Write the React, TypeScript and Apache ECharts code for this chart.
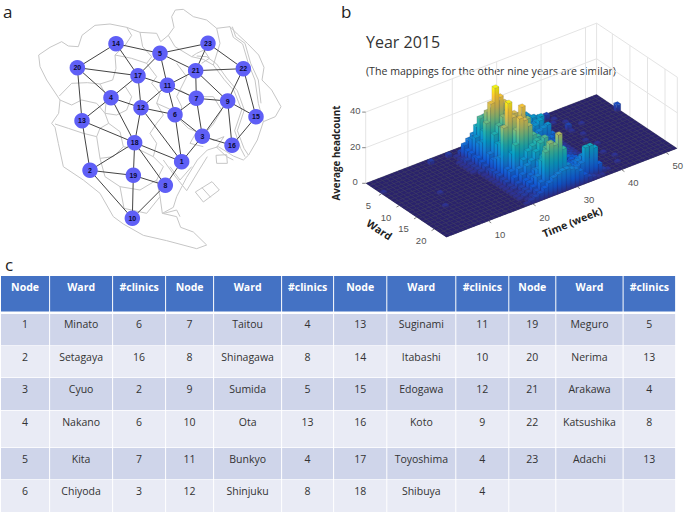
import React, { useEffect, useRef } from "react";
import * as echarts from "echarts";

// ---------- panel a ----------
const nodeIds = [14, 5, 23, 20, 17, 21, 22, 11, 4, 7, 9, 12, 6, 13, 15, 3, 18, 16, 1, 2, 19, 8, 10];
const nodeX = [348, 480, 624, 232, 414, 587, 730, 502, 333, 589, 683, 423, 525, 246, 768, 607, 404, 696, 545, 270, 400, 496, 397];
const nodeY = [131, 160, 130, 203, 227, 212, 206, 256, 293, 295, 303, 323, 344, 362, 350, 409, 428, 436, 485, 511, 526, 556, 655];
const edges = [
  [14, 20], [14, 5], [14, 17], [5, 23], [5, 21], [5, 17], [5, 11], [23, 21], [23, 22], [21, 22], [21, 11], [21, 7], [21, 9],
  [20, 17], [20, 4], [20, 13], [17, 11], [17, 4], [17, 12], [11, 12], [11, 7], [11, 6], [4, 12], [4, 13], [4, 18], [12, 6],
  [12, 18], [12, 1], [7, 6], [7, 9], [7, 3], [9, 22], [9, 15], [9, 16], [9, 3], [22, 15], [15, 16], [6, 3], [6, 1], [3, 16],
  [3, 1], [13, 18], [13, 2], [18, 2], [18, 19], [18, 1], [18, 8], [2, 19], [2, 10], [19, 8], [19, 10], [8, 1], [8, 10],
];
const mapLines: number[][][] = [
  // outer boundary
  [[116, 165], [150, 142], [185, 125], [205, 138], [235, 140], [246, 106], [285, 76], [330, 72], [380, 82], [420, 97], [470, 100], [482, 125], [505, 106], [522, 82], [515, 50], [526, 30], [550, 28], [580, 50], [620, 60], [650, 85], [690, 80], [712, 102], [742, 130], [776, 165], [792, 202], [786, 240], [815, 270], [843, 320], [826, 350], [790, 365], [772, 420], [746, 465], [730, 480], [700, 468], [655, 440], [622, 450], [592, 480], [560, 532], [530, 590], [520, 622], [487, 640], [530, 650], [542, 682], [580, 696], [620, 735], [590, 746], [500, 722], [430, 706], [370, 672], [340, 650], [300, 580], [250, 540], [190, 500], [175, 430], [165, 382], [155, 370], [176, 340], [180, 300], [140, 240], [120, 200], [116, 165]],
  // ward borders
  [[380, 82], [395, 106], [376, 135], [345, 165], [348, 205], [338, 240], [300, 252], [262, 248], [215, 250], [178, 288]],
  [[300, 252], [320, 290], [315, 340], [326, 370], [300, 385], [290, 410], [250, 400], [205, 385], [165, 372]],
  [[420, 97], [428, 140], [455, 170], [440, 190], [470, 230], [455, 250]],
  [[345, 165], [395, 175], [440, 190]],
  [[376, 260], [395, 290], [380, 330], [350, 345], [315, 340]],
  [[326, 370], [360, 395], [370, 440], [340, 470], [300, 475], [315, 530], [360, 560], [372, 625]],
  [[290, 410], [300, 475]],
  [[455, 250], [480, 280], [470, 310], [490, 345], [470, 370], [450, 400], [470, 430], [460, 470], [490, 500], [470, 540]],
  [[370, 440], [420, 450], [460, 470]],
  [[360, 560], [420, 570], [470, 540], [480, 590], [440, 640], [372, 625]],
  [[480, 590], [487, 640]],
  [[505, 106], [525, 140], [575, 170], [590, 160], [612, 150], [628, 175], [605, 190]],
  [[530, 190], [560, 230], [540, 270], [530, 290], [545, 320], [540, 360], [565, 385], [590, 395], [570, 430], [610, 440]],
  [[575, 170], [610, 178], [640, 195], [672, 238], [702, 272], [725, 330], [704, 392], [722, 445], [735, 470]],
  [[590, 168], [620, 170], [650, 192], [680, 234], [712, 272], [733, 330], [712, 392], [732, 445], [745, 465]],
  [[690, 80], [700, 112], [728, 132], [745, 190], [765, 240], [775, 310], [790, 365]],
  [[697, 80], [707, 110], [735, 130], [752, 190], [775, 240], [783, 310]],
  [[620, 410], [642, 422], [672, 410], [650, 442], [680, 470], [700, 480]],
  [[648, 466], [680, 464], [682, 490], [650, 490], [648, 466]],
  [[490, 480], [520, 522], [560, 572], [590, 522], [622, 470]],
  [[510, 500], [540, 540], [575, 500]],
  [[586, 576], [636, 545], [658, 570], [610, 606], [586, 576]],
  [[606, 563], [632, 592]],
  [[492, 640], [530, 630], [540, 650]],
  [[540, 270], [575, 290], [640, 290], [665, 330], [640, 372], [620, 395]],
  [[180, 300], [215, 315], [245, 300], [290, 310], [315, 340]],
  [[470, 310], [515, 330], [540, 360]],
  [[640, 195], [660, 130], [650, 85]],
];

// ---------- panel b ----------
const yearTitle = "Year 2015";
const subTitle = "(The mappings for the other nine years are similar)";
const wardTicks = [5, 10, 15, 20];
const weekTicks = [10, 20, 30, 40, 50];
const headTicks = [0, 20, 40];
// rows = wards, columns = weeks
const headcount: number[][] = [
  [0, 0, 0, 0, 0, 0, 0, 0, 0, 0, 0, 0, 0, 0, 0, 0, 0, 0, 0, 0, 0, 0, 1, 0, 1, 0, 0, 1, 0, 0, 1, 0, 0, 0, 0, 0, 0, 0, 0, 0, 0, 0, 0, 0, 0, 0, 0, 0, 0, 0, 0, 0],
  [0, 0, 0, 0, 0, 0, 0, 0, 0, 0, 0, 0, 0, 2, 0, 0, 0, 2, 0, 0, 1, 1, 1, 2, 1, 1, 1, 2, 2, 1, 1, 0, 0, 0, 1, 0, 0, 0, 0, 3, 0, 0, 0, 0, 0, 0, 0, 0, 0, 0, 0, 0],
  [0, 0, 0, 0, 0, 0, 0, 0, 0, 0, 0, 0, 0, 0, 0, 0, 0, 0, 1, 3, 5, 6, 7, 6, 5, 4, 4, 3, 3, 2, 3, 4, 4, 2, 2, 1, 0, 0, 0, 0, 1, 0, 0, 0, 0, 0, 0, 0, 0, 0, 0, 0],
  [0, 0, 0, 0, 0, 0, 0, 0, 0, 0, 0, 0, 0, 0, 0, 0, 0, 0, 1, 8, 10, 12, 14, 13, 10, 8, 6, 4, 5, 4, 6, 10, 10, 6, 3, 2, 1, 0, 0, 1, 0, 0, 0, 0, 0, 0, 0, 0, 0, 0, 0, 0],
  [1, 0, 0, 0, 0, 0, 0, 0, 0, 0, 0, 0, 0, 0, 0, 0, 0, 1, 2, 6, 12, 18, 20, 22, 16, 12, 8, 6, 5, 5, 7, 10, 14, 8, 4, 2, 1, 0, 0, 0, 0, 1, 0, 0, 0, 0, 0, 0, 0, 0, 0, 0],
  [0, 0, 0, 0, 0, 0, 0, 0, 0, 0, 0, 0, 0, 0, 0, 0, 0, 1, 3, 6, 14, 24, 24, 22, 18, 12, 9, 7, 6, 6, 8, 12, 14, 13, 6, 3, 1, 0, 0, 0, 0, 0, 0, 0, 0, 0, 0, 0, 0, 0, 0, 0],
  [0, 0, 0, 0, 0, 0, 0, 0, 0, 0, 0, 0, 0, 0, 0, 0, 0, 1, 2, 5, 12, 18, 26, 28, 24, 16, 10, 8, 7, 7, 9, 13, 15, 14, 8, 3, 1, 0, 0, 0, 3, 0, 0, 1, 0, 0, 0, 0, 0, 0, 0, 4],
  [0, 0, 0, 0, 0, 0, 0, 0, 0, 0, 0, 0, 0, 0, 0, 0, 0, 1, 2, 6, 14, 30, 30, 34, 30, 24, 14, 9, 7, 8, 10, 13, 14, 16, 9, 4, 2, 0, 0, 0, 1, 0, 0, 0, 0, 0, 0, 0, 0, 0, 0, 0],
  [0, 0, 0, 0, 0, 0, 0, 0, 0, 0, 0, 0, 0, 0, 0, 0, 0, 1, 2, 5, 26, 36, 44, 38, 34, 22, 12, 8, 9, 11, 13, 14, 16, 10, 4, 2, 1, 0, 0, 0, 0, 0, 0, 0, 0, 0, 0, 0, 0, 0, 0, 0],
  [0, 0, 0, 0, 0, 0, 0, 0, 0, 0, 0, 0, 0, 0, 0, 0, 0, 0, 2, 4, 10, 20, 24, 28, 30, 24, 14, 9, 7, 8, 10, 12, 13, 14, 8, 3, 1, 0, 0, 0, 0, 1, 0, 0, 0, 0, 0, 0, 0, 0, 0, 0],
  [0, 0, 0, 0, 0, 0, 0, 0, 1, 0, 0, 0, 0, 0, 0, 0, 0, 0, 1, 3, 8, 16, 24, 30, 30, 24, 16, 9, 6, 5, 7, 8, 9, 8, 5, 2, 1, 0, 0, 0, 0, 0, 0, 0, 0, 0, 0, 0, 0, 0, 0, 0],
  [0, 0, 0, 0, 0, 0, 0, 0, 0, 0, 0, 0, 0, 0, 0, 0, 0, 0, 1, 4, 10, 18, 26, 30, 28, 26, 16, 10, 8, 6, 6, 7, 8, 7, 4, 2, 1, 0, 0, 0, 1, 0, 0, 0, 0, 0, 0, 0, 0, 0, 0, 0],
  [0, 0, 0, 0, 0, 0, 0, 0, 0, 0, 0, 0, 0, 0, 0, 0, 0, 0, 1, 4, 12, 20, 30, 34, 32, 30, 28, 14, 9, 6, 6, 8, 7, 6, 4, 2, 1, 0, 0, 0, 0, 0, 0, 0, 0, 0, 0, 0, 0, 0, 0, 0],
  [0, 0, 0, 0, 0, 0, 0, 0, 0, 0, 0, 0, 0, 0, 0, 0, 0, 0, 1, 4, 30, 43, 34, 30, 38, 24, 12, 9, 7, 5, 5, 6, 6, 5, 3, 2, 1, 0, 0, 0, 0, 1, 0, 0, 0, 0, 0, 0, 0, 0, 0, 0],
  [0, 0, 0, 0, 0, 0, 1, 0, 0, 0, 0, 0, 0, 0, 0, 0, 0, 0, 1, 3, 8, 16, 28, 32, 26, 24, 16, 10, 7, 5, 4, 5, 6, 4, 3, 2, 1, 0, 0, 0, 0, 0, 0, 0, 0, 0, 0, 0, 0, 0, 0, 0],
  [0, 0, 0, 0, 0, 0, 0, 0, 0, 0, 0, 0, 0, 0, 0, 0, 0, 0, 1, 3, 8, 22, 36, 34, 30, 24, 22, 14, 8, 5, 4, 4, 5, 4, 2, 1, 1, 0, 0, 0, 0, 0, 0, 0, 0, 0, 0, 0, 0, 0, 0, 0],
  [0, 0, 0, 0, 0, 0, 0, 0, 0, 0, 0, 0, 0, 0, 0, 0, 0, 0, 1, 2, 6, 10, 14, 18, 20, 22, 20, 14, 9, 7, 5, 5, 6, 5, 3, 1, 1, 0, 0, 0, 1, 0, 0, 0, 0, 0, 0, 0, 0, 0, 0, 0],
  [0, 0, 0, 0, 0, 0, 0, 0, 0, 0, 0, 0, 0, 0, 0, 0, 0, 0, 1, 2, 4, 8, 12, 14, 18, 22, 24, 16, 10, 7, 6, 5, 6, 6, 3, 2, 1, 0, 0, 0, 0, 0, 0, 0, 0, 0, 0, 0, 0, 0, 0, 0],
  [0, 0, 0, 0, 0, 0, 0, 0, 0, 0, 0, 0, 0, 0, 0, 0, 0, 0, 1, 1, 3, 6, 8, 10, 14, 16, 18, 12, 8, 6, 5, 6, 6, 5, 3, 1, 1, 0, 0, 0, 0, 1, 0, 0, 0, 0, 0, 0, 0, 0, 0, 0],
  [0, 0, 0, 0, 0, 0, 0, 0, 0, 0, 0, 0, 0, 0, 0, 0, 0, 0, 1, 2, 3, 6, 8, 12, 18, 20, 16, 12, 8, 6, 6, 8, 9, 7, 4, 2, 1, 0, 0, 0, 0, 0, 0, 0, 0, 0, 0, 0, 0, 0, 0, 0],
  [0, 0, 0, 0, 0, 0, 0, 0, 0, 0, 0, 0, 0, 0, 0, 0, 0, 0, 1, 2, 3, 5, 10, 18, 24, 26, 22, 16, 10, 8, 8, 10, 12, 9, 5, 2, 1, 0, 0, 0, 1, 0, 0, 0, 0, 0, 0, 0, 0, 0, 0, 0],
  [0, 0, 0, 0, 0, 0, 0, 0, 0, 0, 0, 0, 0, 0, 0, 0, 0, 0, 0, 1, 2, 4, 8, 24, 28, 26, 31, 22, 12, 9, 9, 10, 18, 18, 16, 6, 2, 1, 0, 0, 0, 0, 0, 0, 0, 0, 0, 0, 0, 0, 0, 0],
  [0, 0, 0, 0, 0, 0, 0, 0, 0, 0, 0, 0, 0, 0, 0, 0, 0, 0, 1, 2, 3, 4, 6, 8, 10, 11, 12, 12, 11, 10, 8, 5, 3, 2, 1, 1, 0, 0, 0, 0, 0, 0, 0, 0, 0, 0, 0, 0, 0, 0, 0, 0],
];

// ---------- panel c ----------
const tableHeader = ["Node", "Ward", "#clinics"];
const wardNames = ["Minato", "Setagaya", "Cyuo", "Nakano", "Kita", "Chiyoda", "Taitou", "Shinagawa", "Sumida", "Ota", "Bunkyo", "Shinjuku", "Suginami", "Itabashi", "Edogawa", "Koto", "Toyoshima", "Shibuya", "Meguro", "Nerima", "Arakawa", "Katsushika", "Adachi"];
const clinicCounts = [6, 16, 2, 6, 7, 3, 4, 8, 5, 13, 4, 8, 11, 10, 12, 9, 4, 4, 5, 13, 4, 8, 13];

// ---------- layout (page pixels) ----------
const colEdges = [1, 49.5, 112.5, 165.5, 213.5, 281.5, 333.5, 386.7, 455.7, 508.7, 555.7, 623, 675.5];
const rowEdges = [276, 311.5, 314, 345.2, 345.8, 377.3, 378, 410, 410.8, 447.2, 448, 479.3, 480, 512];
const rowTextY = [286.7, 324, 356.7, 389, 421.7, 459, 491];
const FONT = '"Open Sans", sans-serif';
const TICKFONT = '"Liberation Sans", Arial, sans-serif';

// projection of (ward, week, headcount) to page pixels
const O = { x: 365.7, y: 183.3, wx: 3.51, wy: 2.35, tx: 4.44, ty: -1.71, z: 1.78 };
const WARD_MAX = 23;
const WEEK_MAX = 52;
const HEAD_MAX = 40;
const BAR_HALF = 0.45;
const COLOR_MAX = 44;
const project = (w: number, t: number, v: number): [number, number] => [
  O.x + O.wx * w + O.tx * t,
  O.y + O.wy * w + O.ty * t - O.z * v,
];

const parula: [number, number, number][] = [
  [53, 42, 135], [15, 92, 221], [20, 129, 214], [6, 164, 202], [46, 183, 164], [135, 191, 119], [209, 187, 89], [254, 200, 50], [249, 251, 14],
];
const parulaAt = (f: number, shade = 1) => {
  const p = Math.max(0, Math.min(1, f)) * (parula.length - 1);
  const i = Math.min(parula.length - 2, Math.floor(p));
  const k = p - i;
  const c = parula[i].map((a, n) => Math.round((a + (parula[i + 1][n] - a) * k) * shade));
  return `rgb(${c[0]},${c[1]},${c[2]})`;
};

export default function App() {
  const ref = useRef<HTMLDivElement>(null);
  useEffect(() => {
    const chart = echarts.init(ref.current!, undefined, { renderer: "svg" });

    // map nodes
    const graphNodes = nodeIds.map((id, i) => ({ name: String(id), value: [nodeX[i], nodeY[i]] }));
    const graphLinks = edges.map(([a, b]) => ({ source: String(a), target: String(b) }));

    // bars, far to near
    const barData: number[][] = [];
    for (let w = 0; w < headcount.length; w++) {
      for (let t = WEEK_MAX - 1; t >= 0; t--) barData.push([w, t, headcount[w][t]]);
    }

    const toPoly = (api: any, pts: [number, number][]) => pts.map((p) => api.coord(p));

    const renderBar = (_p: any, api: any) => {
      const w = api.value(0) + 0.5;
      const t = api.value(1) + 0.5;
      const v = api.value(2);
      const h = BAR_HALF;
      const top = [project(w - h, t - h, v), project(w + h, t - h, v), project(w + h, t + h, v), project(w - h, t + h, v)];
      const f = v / COLOR_MAX;
      const children: any[] = [];
      const edge = "rgba(30,30,70,0.35)";
      if (v > 0) {
        const n = Math.max(1, Math.ceil(f * 8));
        const grad = (shade: number) => {
          const stops = [];
          for (let s = 0; s <= n; s++) stops.push({ offset: s / n, color: parulaAt(f * (1 - s / n), shade) });
          return new echarts.graphic.LinearGradient(0, 0, 0, 1, stops);
        };
        const front = [project(w + h, t - h, v), project(w + h, t + h, v), project(w + h, t + h, 0), project(w + h, t - h, 0)];
        const side = [project(w - h, t - h, v), project(w + h, t - h, v), project(w + h, t - h, 0), project(w - h, t - h, 0)];
        children.push({ type: "polygon", shape: { points: toPoly(api, side as any) }, style: { fill: grad(1), stroke: edge, lineWidth: 0.3 } });
        children.push({ type: "polygon", shape: { points: toPoly(api, front as any) }, style: { fill: grad(0.88), stroke: edge, lineWidth: 0.3 } });
      }
      children.push({
        type: "polygon", shape: { points: toPoly(api, top as any) },
        style: { fill: parulaAt(f, v > 0 ? 0.98 : 0.8), stroke: "rgba(60,60,90,0.5)", lineWidth: 0.3 },
      });
      return { type: "group", children };
    };

    // floor under the bars: [ward, week] corners
    const floorCorners = [[0, 0], [WARD_MAX, 0], [WARD_MAX, WEEK_MAX], [0, WEEK_MAX]];
    const renderFloor = (_p: any, api: any) => ({
      type: "polygon",
      shape: { points: floorCorners.map(([w, t]) => api.coord(project(w, t, 0))) },
      style: { fill: "#45446a" },
    });

    // walls
    const wallSegs: [number, number, number, number, number, number][] = [];
    for (const k of weekTicks) wallSegs.push([0, k - 0.5, 0, 0, k - 0.5, HEAD_MAX]);
    for (const k of wardTicks) wallSegs.push([k - 0.5, WEEK_MAX, 0, k - 0.5, WEEK_MAX, HEAD_MAX]);
    for (const z of headTicks) {
      wallSegs.push([0, 0, z, 0, WEEK_MAX, z]);
      wallSegs.push([0, WEEK_MAX, z, WARD_MAX, WEEK_MAX, z]);
    }
    wallSegs.push([0, 0, 0, 0, 0, HEAD_MAX]);
    wallSegs.push([0, WEEK_MAX, 0, 0, WEEK_MAX, HEAD_MAX]);
    wallSegs.push([WARD_MAX, WEEK_MAX, 0, WARD_MAX, WEEK_MAX, HEAD_MAX]);

    const renderWall = (_p: any, api: any) => {
      const a = api.coord(project(api.value(0), api.value(1), api.value(2)));
      const b = api.coord(project(api.value(3), api.value(4), api.value(5)));
      return { type: "line", shape: { x1: a[0], y1: a[1], x2: b[0], y2: b[1] }, style: { stroke: "#e4e4e4", lineWidth: 1 } };
    };

    // tick marks and tick labels of the 3-D axes: [kind, tick]
    const tickData: number[][] = [
      ...wardTicks.map((k) => [0, k]),
      ...weekTicks.map((k) => [1, k]),
      ...headTicks.map((k) => [2, k]),
    ];
    const renderTick = (_p: any, api: any) => {
      const kind = api.value(0);
      const k = api.value(1);
      const base = kind === 0 ? project(k - 0.5, 0, 0) : kind === 1 ? project(WARD_MAX, k - 0.5, 0) : project(0, 0, k);
      const off = kind === 0 ? [-13, 11.5] : kind === 1 ? [11.5, 13] : [-10.5, -1.5];
      const tk = kind === 0 ? [-2.6, 1.5] : kind === 1 ? [2.6, 1.8] : [-3.5, 0];
      const a = api.coord(base);
      return {
        type: "group",
        children: [
          { type: "line", shape: { x1: a[0], y1: a[1], x2: a[0] + tk[0], y2: a[1] + tk[1] }, style: { stroke: "#666", lineWidth: 0.8 } },
          { type: "text", x: a[0] + off[0], y: a[1] + off[1], style: { text: String(k), fill: "#555", font: `9.5px ${TICKFONT}`, align: "center", verticalAlign: "middle" } },
        ],
      };
    };

    // table: [col, row, kind]
    const nCols = 12;
    const cells: any[] = [];
    for (let c = 0; c < nCols; c++) cells.push({ value: [c, 0], text: tableHeader[c % 3] });
    for (let g = 0; g < 4; g++) {
      for (let r = 0; r < 6; r++) {
        const i = g * 6 + r;
        const has = i < wardNames.length;
        cells.push({ value: [g * 3, r + 1], text: has ? String(i + 1) : "" });
        cells.push({ value: [g * 3 + 1, r + 1], text: has ? wardNames[i] : "" });
        cells.push({ value: [g * 3 + 2, r + 1], text: has ? String(clinicCounts[i]) : "" });
      }
    }
    const renderCell = (params: any, api: any) => {
      const c = api.value(0);
      const r = api.value(1);
      const item = cells[params.dataIndex];
      const x1 = colEdges[c] + (c > 0 ? 0.6 : 0);
      const x2 = colEdges[c + 1] - 0.4;
      const y1 = r === 0 ? rowEdges[0] : rowEdges[r * 2];
      const y2 = r === 0 ? rowEdges[1] : rowEdges[r * 2 + 1];
      const fill = r === 0 ? "#4472C4" : r % 2 === 1 ? "#CFD5EA" : "#E9EBF5";
      const a = api.coord([x1, y1]);
      const b = api.coord([x2, y2]);
      const m = api.coord([(x1 + x2) / 2, rowTextY[r]]);
      return {
        type: "group",
        children: [
          { type: "rect", shape: { x: a[0], y: a[1], width: b[0] - a[0], height: b[1] - a[1] }, style: { fill } },
          {
            type: "text", x: m[0], y: m[1],
            style: {
              text: item.text, fill: r === 0 ? "#ffffff" : "#333333",
              font: `${r === 0 ? "bold " : ""}10.5px ${FONT}`, align: "center", verticalAlign: "middle",
            },
          },
        ],
      };
    };

    chart.setOption({
      animation: false,
      backgroundColor: "#ffffff",
      grid: [
        { left: 0, top: 0, width: 290, height: 250 },
        { left: 0, top: 0, width: 685, height: 513 },
      ],
      xAxis: [
        { type: "value", gridIndex: 0, min: 0, max: 870, show: false },
        { type: "value", gridIndex: 1, min: 0, max: 685, show: false },
      ],
      yAxis: [
        { type: "value", gridIndex: 0, min: 0, max: 750, inverse: true, show: false },
        { type: "value", gridIndex: 1, min: 0, max: 513, inverse: true, show: false },
      ],
      series: [
        {
          type: "lines", coordinateSystem: "cartesian2d", xAxisIndex: 0, yAxisIndex: 0, polyline: true, silent: true, z: 1,
          data: mapLines.map((coords) => ({ coords })),
          lineStyle: { color: "#c6c6c6", width: 1, opacity: 1 },
        },
        {
          type: "graph", coordinateSystem: "cartesian2d", xAxisIndex: 0, yAxisIndex: 0, layout: "none", z: 3,
          symbol: "circle", symbolSize: 15.5, roam: false,
          data: graphNodes, links: graphLinks,
          itemStyle: { color: "#5F5FF6", opacity: 1 },
          lineStyle: { color: "#444444", width: 1, opacity: 1, curveness: 0 },
          label: { show: true, position: "inside", color: "#0a0a33", fontSize: 7, fontWeight: "bold", fontFamily: TICKFONT },
        },
        {
          type: "custom", coordinateSystem: "cartesian2d", xAxisIndex: 1, yAxisIndex: 1, silent: true, z: 2,
          data: wallSegs, renderItem: renderWall, clip: false,
        },
        {
          type: "custom", coordinateSystem: "cartesian2d", xAxisIndex: 1, yAxisIndex: 1, silent: true, z: 2,
          data: [[0]], renderItem: renderFloor, clip: false,
        },
        {
          type: "custom", coordinateSystem: "cartesian2d", xAxisIndex: 1, yAxisIndex: 1, silent: true, z: 3,
          data: barData, renderItem: renderBar, clip: false,
          encode: { x: 1, y: 0 },
        },
        {
          type: "custom", coordinateSystem: "cartesian2d", xAxisIndex: 1, yAxisIndex: 1, silent: true, z: 3,
          data: tickData, renderItem: renderTick, clip: false,
        },
        {
          type: "custom", coordinateSystem: "cartesian2d", xAxisIndex: 1, yAxisIndex: 1, silent: true, z: 3,
          data: cells, renderItem: renderCell, clip: false,
        },
      ],
      graphic: [
        { type: "text", x: 3, y: 11, style: { text: "a", font: `17px ${FONT}`, fill: "#222", verticalAlign: "middle" } },
        { type: "text", x: 341, y: 11, style: { text: "b", font: `17px ${FONT}`, fill: "#222", verticalAlign: "middle" } },
        { type: "text", x: 5, y: 264, style: { text: "c", font: `17px ${FONT}`, fill: "#222", verticalAlign: "middle" } },
        { type: "text", x: 366, y: 42, style: { text: yearTitle, font: `16px ${FONT}`, fill: "#333", verticalAlign: "middle" } },
        { type: "text", x: 366, y: 71, style: { text: subTitle, font: `10.6px ${FONT}`, fill: "#333", verticalAlign: "middle" } },
        { type: "text", x: 336.7, y: 153, rotation: Math.PI / 2, style: { text: "Average headcount", font: `bold 9.8px ${FONT}`, fill: "#222", align: "center", verticalAlign: "middle" } },
        { type: "text", x: 379.3, y: 229.7, rotation: -0.59, style: { text: "Ward", font: `bold 10.5px ${FONT}`, fill: "#222", align: "center", verticalAlign: "middle" } },
        { type: "text", x: 572.3, y: 222, rotation: 0.39, style: { text: "Time (week)", font: `bold 10.5px ${FONT}`, fill: "#222", align: "center", verticalAlign: "middle" } },
      ],
    });
    return () => chart.dispose();
  }, []);
  return <div ref={ref} style={{ position: "absolute", left: 0, top: 0, width: 685, height: 513 }} />;
}
